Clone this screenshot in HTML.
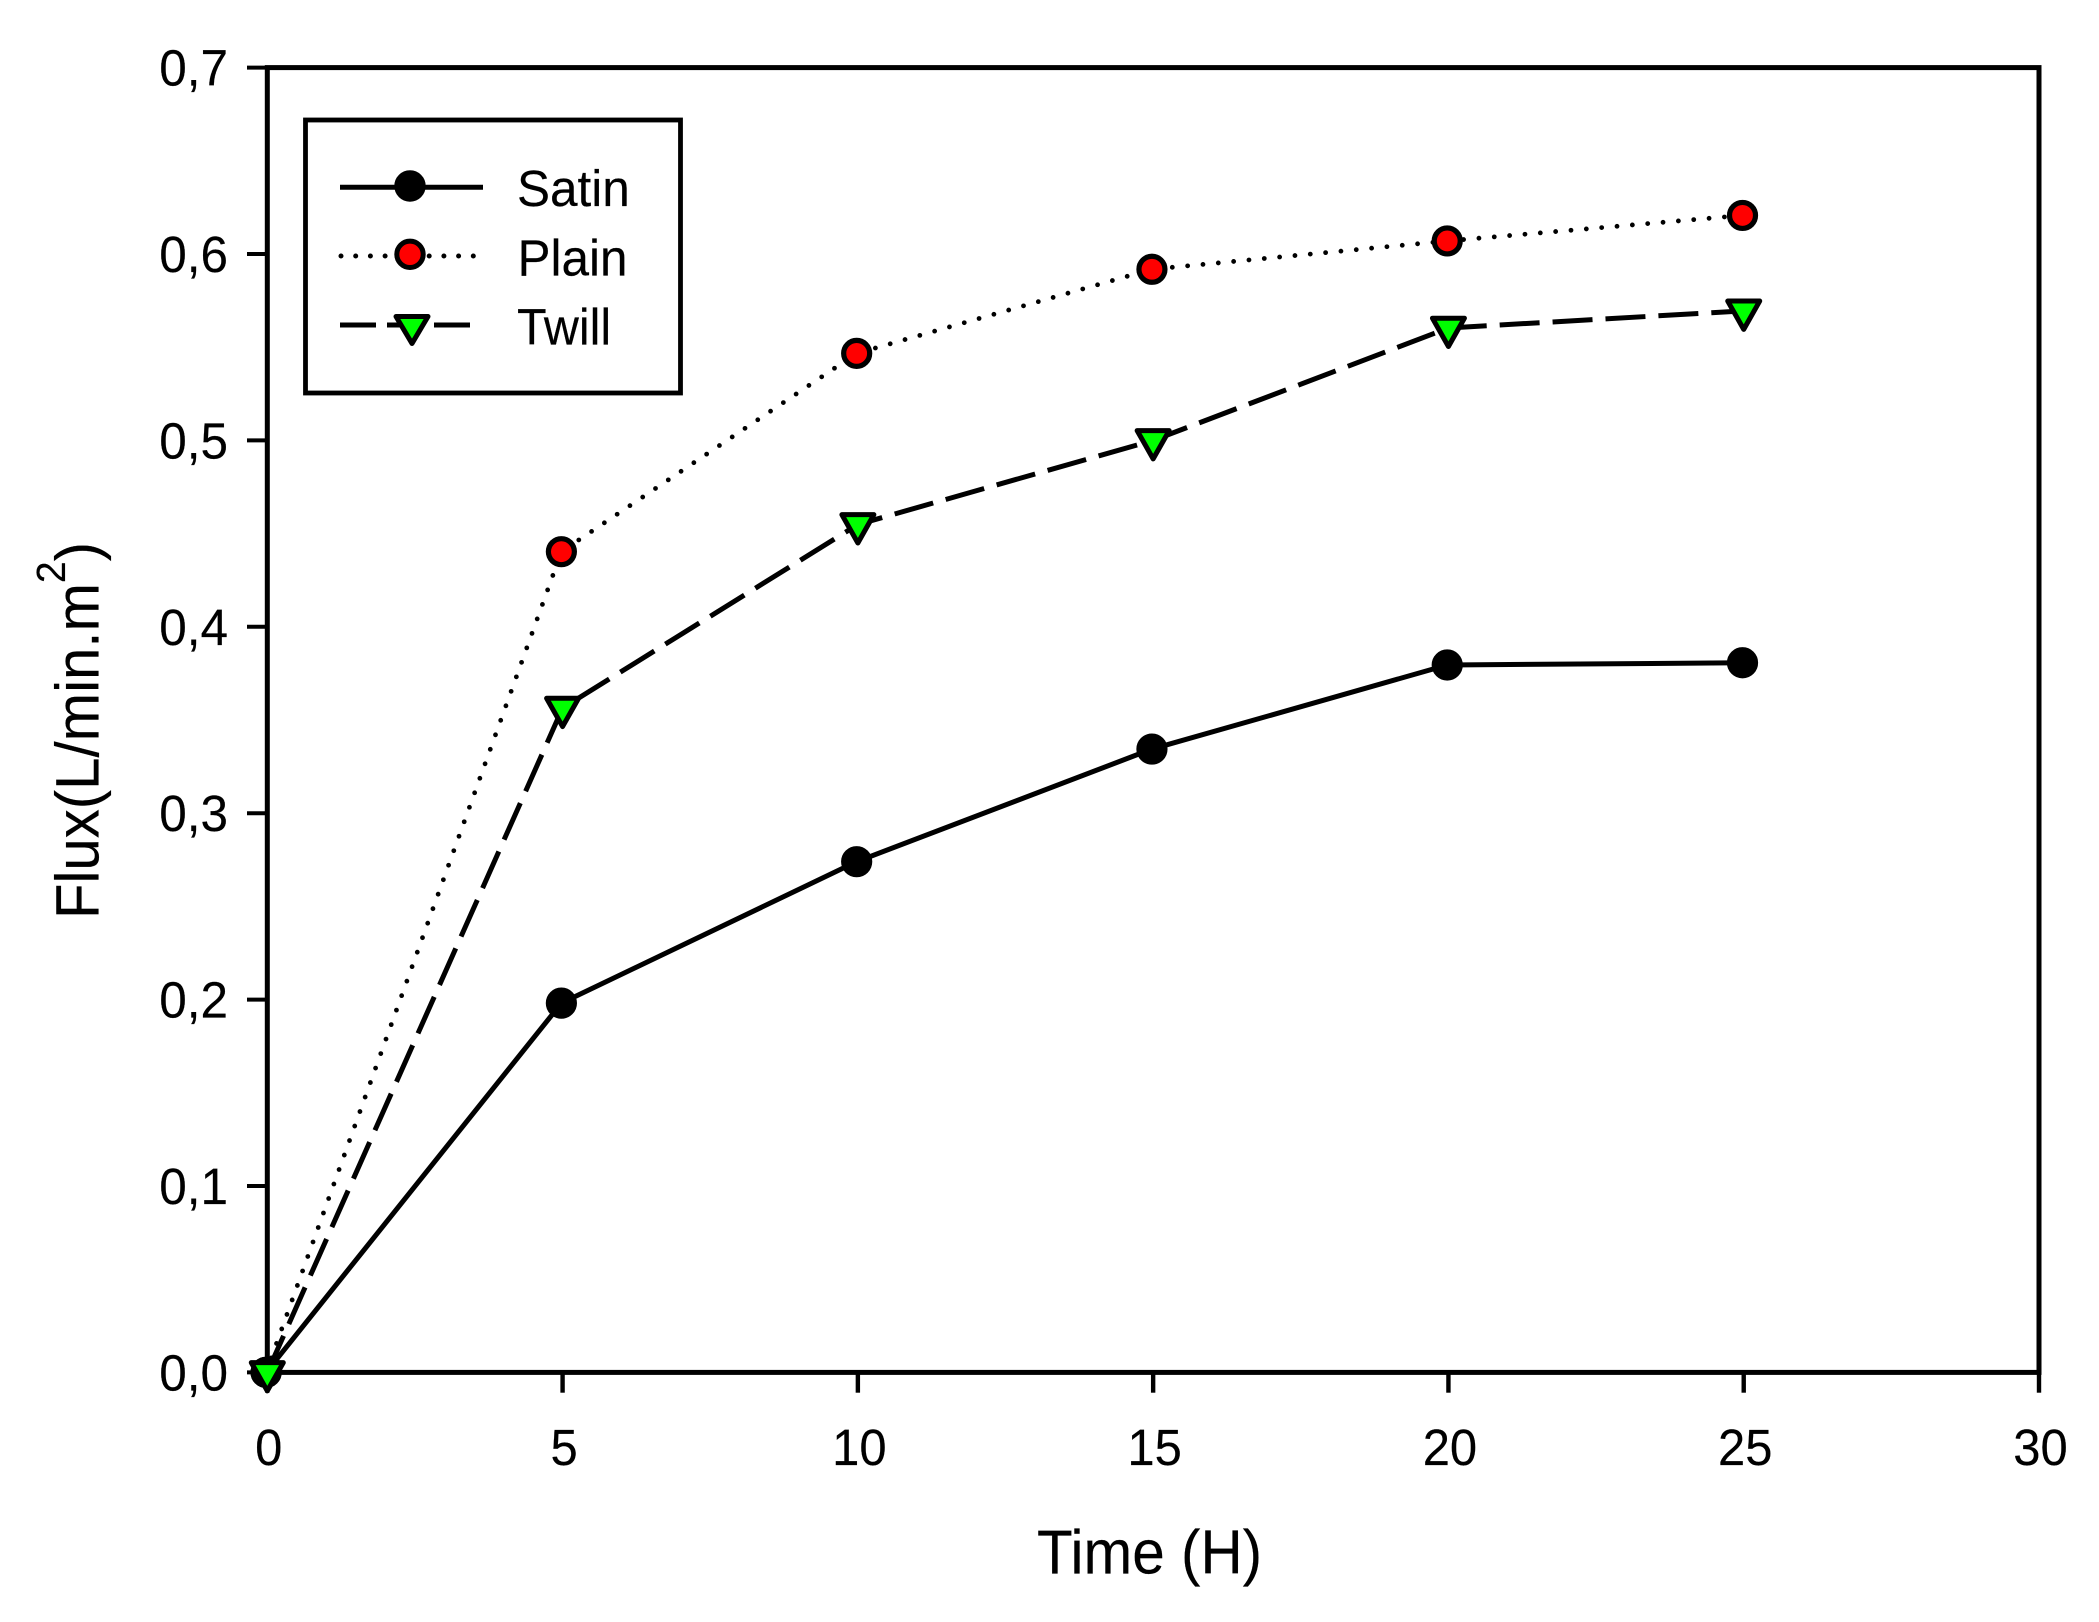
<!DOCTYPE html>
<html lang="en">
<head>
<meta charset="utf-8">
<title>Flux vs Time</title>
<style>
html,body{margin:0;padding:0;background:#fff;width:2099px;height:1622px;overflow:hidden}
svg{display:block}
text{font-family:"Liberation Sans",Arial,sans-serif;fill:#000;stroke:#000;stroke-width:.15px}
</style>
</head>
<body>
<svg id="chart" xmlns="http://www.w3.org/2000/svg" width="2099" height="1622" viewBox="0 0 2099 1622">
  <rect x="0" y="0" width="2099" height="1622" fill="#fff"/>
  <g id="ticks"></g>
  <rect x="267.3" y="67.6" width="1771.7" height="1304.8" fill="none" stroke="#000" stroke-width="5"/>
  <g id="series"></g>

  <g>
    <rect x="305.5" y="120" width="375" height="273" fill="#fff" stroke="#000" stroke-width="4.8"/>
    <g>
      <line x1="340" y1="187.3" x2="483" y2="187.3" stroke="#000" stroke-width="5"/>
      <circle cx="410" cy="186" r="13.2" fill="#000" stroke="#000" stroke-width="5"/>
      <text transform="translate(517 206) scale(.97 1)" font-size="51">Satin</text>
    </g>
    <g>
      <line x1="341" y1="256" x2="477" y2="256" stroke="#000" stroke-width="5" stroke-linecap="round" stroke-dasharray="0 14.7"/>
      <circle cx="410" cy="254.3" r="13.2" fill="#ff0000" stroke="#000" stroke-width="5"/>
      <text transform="translate(517.5 275.3) scale(.97 1)" font-size="51">Plain</text>
    </g>
    <g>
      <line x1="340" y1="325" x2="470" y2="325" stroke="#000" stroke-width="5" stroke-dasharray="36 11"/>
      <path d="M396 316.5H428L412 343.5Z" fill="#00ff00" stroke="#000" stroke-width="5" stroke-linejoin="round"/>
      <text transform="translate(517 344.3) scale(.95 1)" font-size="51">Twill</text>
    </g>
  </g>

  <text transform="translate(1037 1573.3) scale(.943 1)" font-size="62">Time (H)</text>
  <text transform="translate(98.7 919) rotate(-90) scale(.953 1)" font-size="61">Flux(L/min.m<tspan dy="-33.7" font-size="41">2</tspan><tspan dy="33.7">)</tspan></text>
</svg>

<script>
const xTicks = [0, 5, 10, 15, 20, 25, 30];
const yTicks = [0, 0.1, 0.2, 0.3, 0.4, 0.5, 0.6, 0.7];
const xTickLabels = ['0', '5', '10', '15', '20', '25', '30'];
const yTickLabels = ['0,0', '0,1', '0,2', '0,3', '0,4', '0,5', '0,6', '0,7'];
const times = [0, 5, 10, 15, 20, 25];
const satinValues = [0, 0.1981, 0.274, 0.3344, 0.3795, 0.3807];
const plainValues = [0, 0.4403, 0.5467, 0.5918, 0.607, 0.6207];
const twillValues = [0, 0.3564, 0.4549, 0.5, 0.5603, 0.5695];

const NS = 'http://www.w3.org/2000/svg';
const xScale = function (v) { return 267.3 + (v / 30) * 1771.7; };
const yScale = function (v) { return 1372.4 - (v / 0.7) * 1304.8; };
const tickLayer = document.getElementById('ticks');
const seriesLayer = document.getElementById('series');

function make(tag, attrs, parent) {
  const el = document.createElementNS(NS, tag);
  Object.keys(attrs).forEach(function (k) { el.setAttribute(k, attrs[k]); });
  parent.appendChild(el);
  return el;
}

xTicks.forEach(function (v, i) {
  const x = xScale(v);
  const tick = make('line', { x1: x, y1: 1372, x2: x, y2: 1392.7, stroke: '#000', 'stroke-width': 4.4 }, tickLayer);
  
  
  const label = make('text', { transform: 'translate(' + (x + 1.5) + ' 1465) scale(.96 1)', 'font-size': 51, 'text-anchor': 'middle' }, tickLayer);
  label.textContent = xTickLabels[i];
  
  
});

yTicks.forEach(function (v, i) {
  const y = yScale(v);
  const tick = make('line', { x1: 247, y1: y, x2: 267, y2: y, stroke: '#000', 'stroke-width': 4 }, tickLayer);
  
  
  const label = make('text', { transform: 'translate(228 ' + (y + 18) + ') scale(.97 1)', 'font-size': 51, 'text-anchor': 'end' }, tickLayer);
  label.textContent = yTickLabels[i];
  
  
});

function drawLine(values, dash, dx, cap, width) {
  const pts = values.map(function (v, i) { return (xScale(times[i]) + dx) + ',' + yScale(v); }).join(' ');
  const attrs = { points: pts, fill: 'none', stroke: '#000', 'stroke-width': width, 'stroke-linecap': cap, 'stroke-linejoin': 'round' };
  if (dash) { attrs['stroke-dasharray'] = dash; }
  return make('polyline', attrs, seriesLayer);
}

function drawCircle(v, i, fill, dx) {
  return make('circle', { cx: xScale(times[i]) + dx, cy: yScale(v), r: 13, fill: fill, stroke: '#000', 'stroke-width': 5.2 }, seriesLayer);
}

function drawTriangle(v, i) {
  const x = xScale(times[i]);
  const y = yScale(v);
  const d = 'M' + (x - 16) + ' ' + (y - 9.8) + 'H' + (x + 16) + 'L' + x + ' ' + (y + 18.5) + 'Z';
  return make('path', { d: d, fill: '#00ff00', stroke: '#000', 'stroke-width': 5, 'stroke-linejoin': 'round' }, seriesLayer);
}

const satinLine = drawLine(satinValues, null, -1.2, 'butt', 5);


satinValues.forEach(function (v, i) {
  const m = drawCircle(v, i, '#000', -1.2);
  
  
});

const plainLine = drawLine(plainValues, '0 15.4', -1.2, 'round', 4.8);


plainValues.forEach(function (v, i) {
  const m = drawCircle(v, i, '#ff0000', -1.2);
  
  
});

const twillLine = drawLine(twillValues, '40 13', 0, 'butt', 5);


twillValues.forEach(function (v, i) {
  const m = drawTriangle(v, i);
  
  
});
</script>
</body>
</html>
